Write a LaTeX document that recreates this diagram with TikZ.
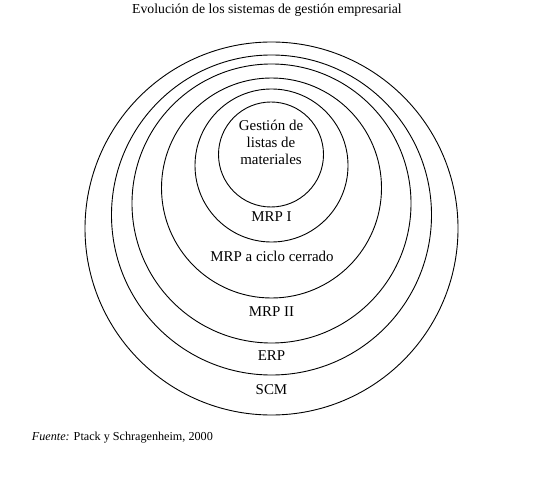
\documentclass[tikz,border=0pt]{standalone}
\usepackage{fontspec}
\setmainfont{Liberation Serif}
\begin{document}
\begin{tikzpicture}[x=1bp,y=-1bp,
  ring/.style={draw=black,line width=0.9bp},
  lab/.style={anchor=base,inner sep=0pt,font=\fontsize{15}{17.2}\selectfont},
  ttl/.style={anchor=base,inner sep=0pt,font=\fontsize{13.8}{16}\selectfont},
  src/.style={anchor=base west,inner sep=0pt,font=\fontsize{12.2}{14}\selectfont}]
\useasboundingbox (0,0) rectangle (549,480);
% rings
\draw[ring] (271.5,228.5) circle[radius=186.5bp];
\draw[ring] (271.5,215) circle[radius=160bp];
\draw[ring] (271.5,203.5) circle[radius=139.5bp];
\draw[ring] (271.5,188) circle[radius=110bp];
\draw[ring] (271.5,165.5) circle[radius=76.5bp];
\draw[ring] (271,154.5) circle[radius=52.5bp];
% labels
\node[ttl] (title) at (267,13.3) {Evolución de los sistemas de gestión empresarial};
\node[anchor=center,inner sep=0pt,align=center,font=\fontsize{15}{17.2}\selectfont] (gest) at (271,142.7) {Gestión de\\listas de\\materiales};
\node[lab] (mrp1) at (271.5,221) {MRP I};
\node[lab] (mrpc) at (272,261.7) {MRP a ciclo cerrado};
\node[lab] (mrp2) at (271.5,316) {MRP II};
\node[lab] (erp) at (271.5,360) {ERP};
\node[lab] (scm) at (271.5,394) {SCM};
\node[src] (fuente) at (31.7,440) {\textit{Fuente:} Ptack y Schragenheim, 2000};
\end{tikzpicture}
\end{document}
